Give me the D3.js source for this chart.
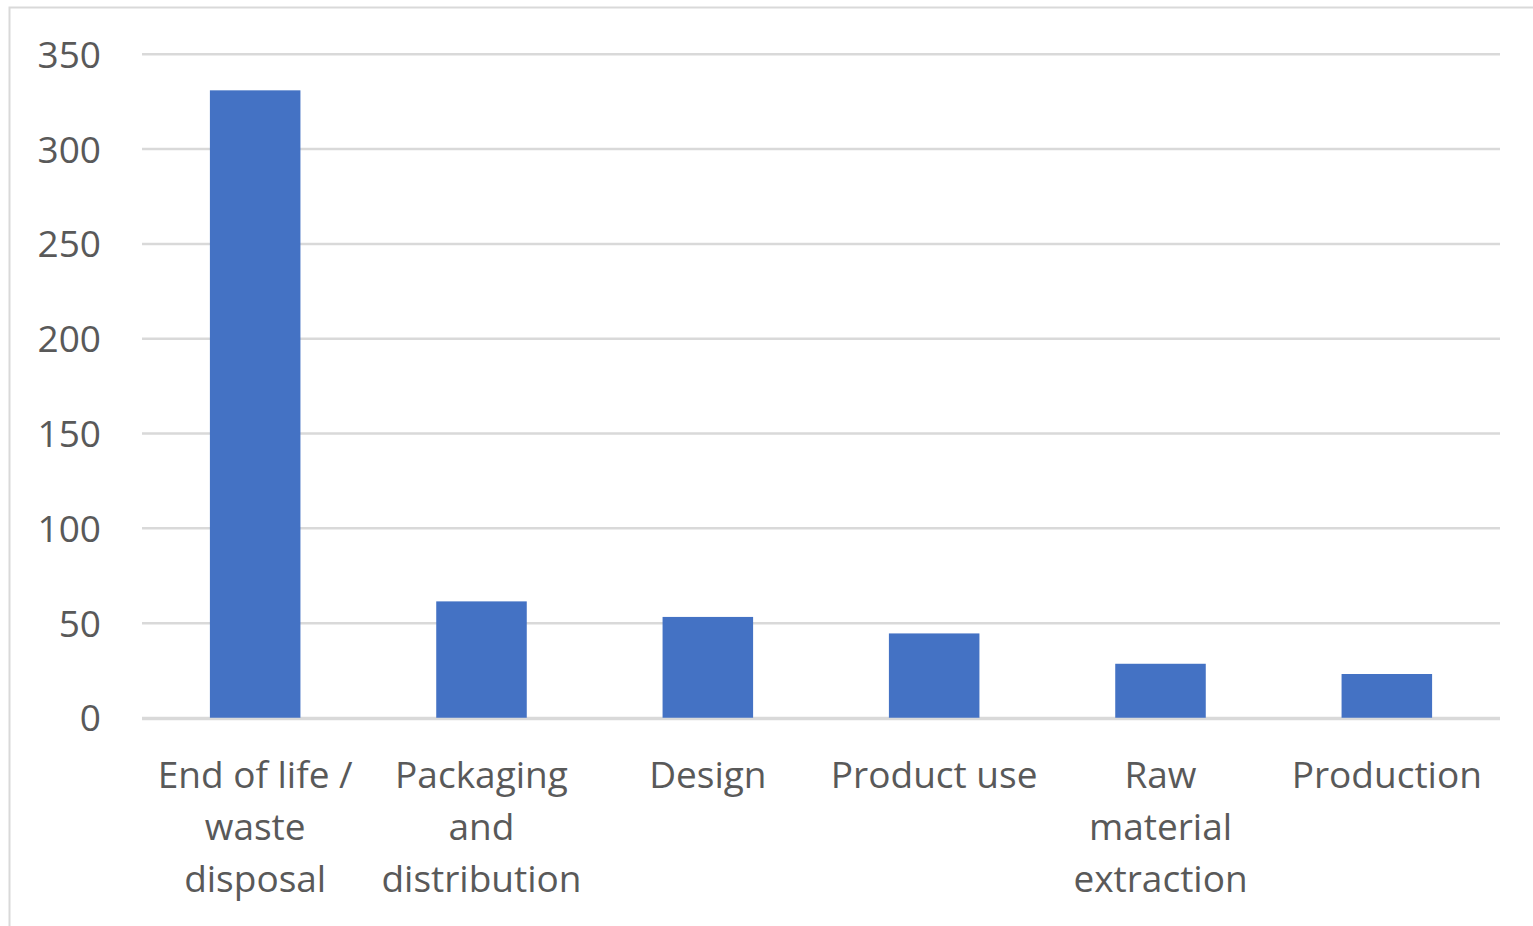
<!DOCTYPE html>
<html><head><meta charset="utf-8">
<script src="https://cdn.jsdelivr.net/npm/d3@7"></script>
<style>html,body{margin:0;padding:0;background:#fff;overflow:hidden}</style>
</head><body>
<svg id="c" width="1533" height="926"></svg>
<script>
const categories = ["End of life / waste disposal","Packaging and distribution","Design","Product use","Raw material extraction","Production"];
const categoryLines = [["End of life /","waste","disposal"],["Packaging","and","distribution"],["Design"],["Product use"],["Raw","material","extraction"],["Production"]];
const values = [331, 61.5, 53.3, 44.6, 28.6, 23.2];
const yTicks = [0,50,100,150,200,250,300,350];

(function(){
const svg = d3.select("#c");
const font = "'Open Sans', 'Noto Sans', sans-serif";
const textColor = "#595959";

svg.append("rect").attr("x",9.5).attr("y",7.5).attr("width",1540).attr("height",940)
  .attr("fill","#fff").attr("stroke","#d9d9d9").attr("stroke-width",2);

const mLeft = 142, mRight = 1500, mTop = 54.3, mBottom = 718;
const x = d3.scaleBand().domain(categories).range([mLeft,mRight]).paddingInner(0.6).paddingOuter(0.3);
const y = d3.scaleLinear().domain([0,350]).range([mBottom,mTop]);

svg.append("g").selectAll("line").data(yTicks).join("line")
  .attr("x1",mLeft).attr("x2",mRight)
  .attr("y1",d=>y(d)).attr("y2",d=>y(d))
  .attr("stroke","#d9d9d9").attr("stroke-width",2.5);

svg.append("g").selectAll("rect").data(values).join("rect")
  .attr("x",(d,i)=>x(categories[i]))
  .attr("width",x.bandwidth())
  .attr("y",d=>y(d))
  .attr("height",d=>y(0)-y(d))
  .attr("fill","#4472c4");

svg.append("line").attr("x1",mLeft).attr("x2",mRight).attr("y1",y(0)+1).attr("y2",y(0)+1)
  .attr("stroke","#d9d9d9").attr("stroke-width",2.5);

const yAxis = d3.axisLeft(y).tickValues(yTicks).tickSize(0).tickPadding(0);
const gy = svg.append("g").attr("transform","translate(101,0)").call(yAxis);
gy.select(".domain").remove();
gy.selectAll("text").attr("font-family",font).attr("font-size",37).attr("fill",textColor).attr("dy","0.35em");

const gx = svg.append("g");
categories.forEach((c,i)=>{
  const cx = x(c)+x.bandwidth()/2;
  const t = gx.append("text").attr("x",cx).attr("y",788)
    .attr("text-anchor","middle").attr("font-family",font).attr("font-size",37).attr("fill",textColor);
  categoryLines[i].forEach((ln,j)=>{
    t.append("tspan").attr("x",cx).attr("dy", j===0?0:52).text(ln);
  });
});
})();
</script>
</body></html>
